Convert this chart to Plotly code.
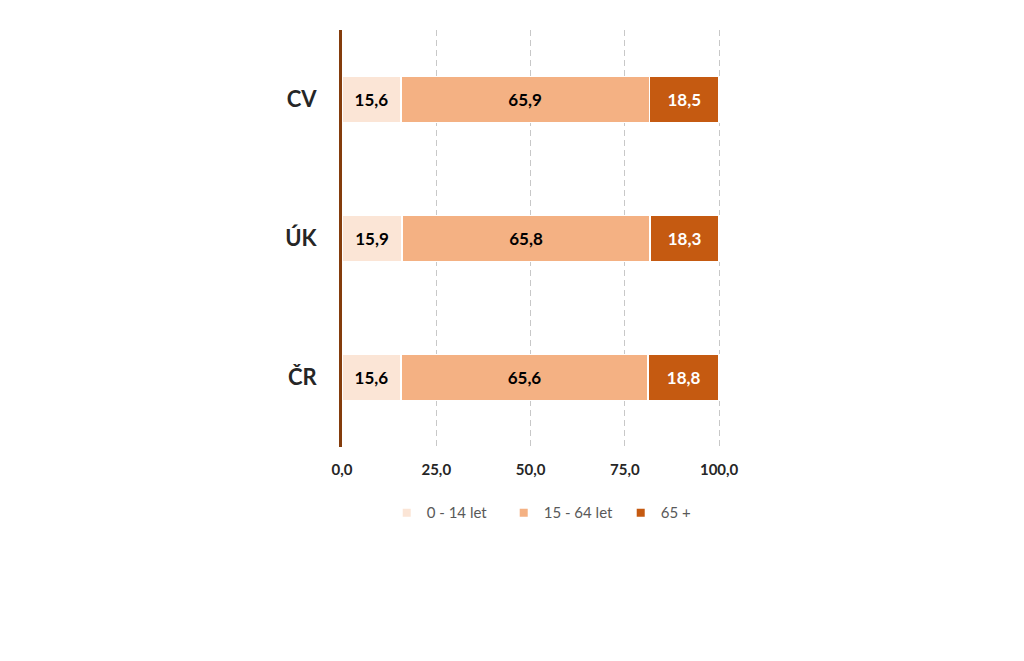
import plotly.graph_objects as go

categories = ["ČR", "ÚK", "CV"]
age_0_14 = [15.6, 15.9, 15.6]
age_15_64 = [65.6, 65.8, 65.9]
age_65 = [18.8, 18.3, 18.5]
series_names = ["0 - 14 let", "15 - 64 let", "65 +"]
tick_vals = [0, 25, 50, 75, 100]

colors = ["#FBE5D6", "#F4B183", "#C55A11"]
text_colors = ["#000000", "#000000", "#FFFFFF"]
FONT = "Lato, 'Open Sans', sans-serif"

fig = go.Figure()
for name, vals, col, tcol in zip(series_names, [age_0_14, age_15_64, age_65], colors, text_colors):
    fig.add_trace(go.Bar(
        y=categories, x=vals, name=name, orientation="h",
        marker=dict(color=col, line=dict(color="#FFFFFF", width=1.5)),
        width=0.33, showlegend=False,
        texttemplate="<b>%{x:.1f}</b>", textposition="inside",
        insidetextanchor="middle",
        textfont=dict(family=FONT, size=17, color=tcol),
        hoverinfo="skip",
    ))
# legend entries with small square markers
for name, col in zip(series_names, colors):
    fig.add_trace(go.Scatter(
        x=[None], y=[None], mode="markers", name=name,
        marker=dict(symbol="square", size=8, color=col),
        hoverinfo="skip",
    ))

fig.update_layout(
    barmode="stack",
    width=1024, height=661,
    margin=dict(l=334, r=311, t=22, b=222),
    paper_bgcolor="white", plot_bgcolor="white",
    separators=", ",
    font=dict(family=FONT, color="#262626"),
    legend=dict(orientation="h", x=0.118, xanchor="left", y=-0.158, yanchor="middle",
                font=dict(family=FONT, size=15, color="#595959"), traceorder="normal",
                itemwidth=30, entrywidth=72, entrywidthmode="pixels"),
    xaxis=dict(range=[0, 100.5], tickvals=tick_vals, tickformat=".1f",
               showgrid=True, gridcolor="#C8C8C8", griddash="6px,4px", gridwidth=1,
               zeroline=False, showline=False, ticks="",
               tickfont=dict(family=FONT, size=15, color="#262626", weight="bold"),
               ticklabelstandoff=12),
    yaxis=dict(showline=True, linecolor="#843C0C", linewidth=3, showgrid=False,
               ticks="", ticklabelstandoff=18,
               tickfont=dict(family=FONT, size=22, color="#262626", weight="bold")),
)

fig.write_html("out.html")
